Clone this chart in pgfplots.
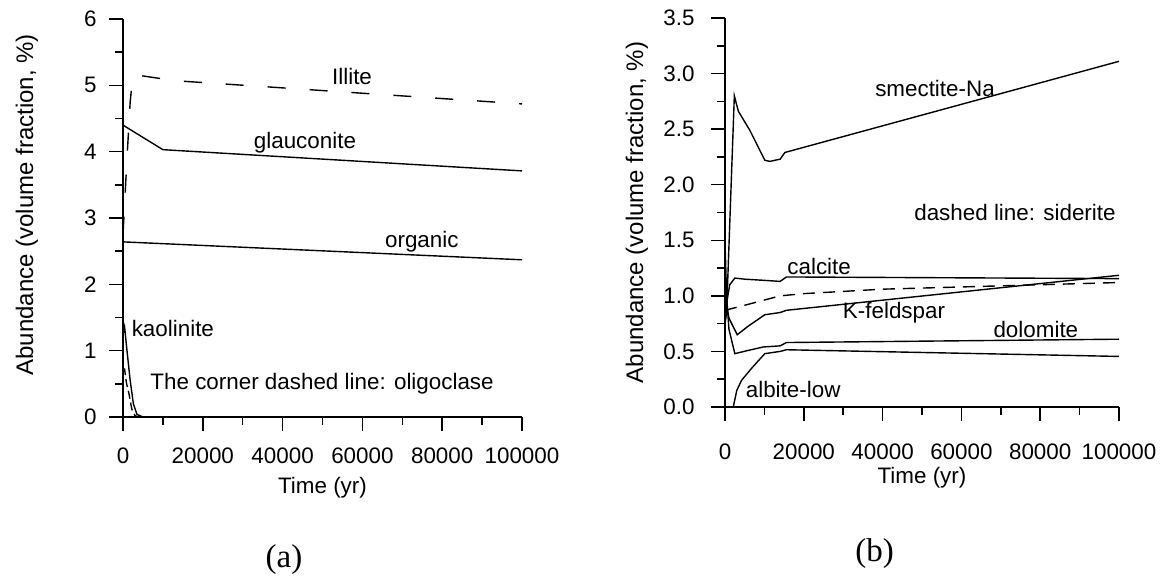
\documentclass[border=0pt]{standalone}
\usepackage{pgfplots}
\pgfplotsset{compat=1.18}
\usepackage{fontspec}
\setmainfont{Liberation Sans}
\newfontfamily\timesf{Liberation Serif}

\tikzset{lab/.style={font=\fontsize{11.2}{13}\selectfont, inner sep=0pt}}
\pgfplotsset{
  panel/.style={
    scale only axis,
    axis lines=left,
    axis line style={-, line width=0.75pt},
    tick align=outside,
    major tick length=7pt,
    minor tick length=4pt,
    tick style={line width=0.75pt, black},
    xmin=0, xmax=100000,
    xtick={0,20000,40000,60000,80000,100000},
    xticklabels={0,20000,40000,60000,80000,100000},
    minor x tick num=1,
    scaled x ticks=false,
    ticklabel style={font=\fontsize{11.2}{13}\selectfont, inner sep=0pt},
    label style={font=\fontsize{11.2}{13}\selectfont},
    ylabel style={font=\fontsize{12}{14}\selectfont},
    cycle list={{black}},
    every axis plot/.append style={black, line width=0.7pt, no markers},
    clip=false,
    xlabel={Time (yr)},
    ylabel={Abundance (volume fraction, \%)},
  },
}

\begin{document}
\begin{tikzpicture}
\useasboundingbox (0,0) rectangle (582pt,288.5pt);

% (a)
\begin{axis}[panel,
  at={(61.5pt,80pt)}, anchor=south west,
  width=199.5pt, height=199pt,
  ymin=0, ymax=6, ytick={0,1,2,3,4,5,6}, yticklabels={0,1,2,3,4,5,6},
  minor y tick num=1,
  xticklabel style={yshift=-8pt},
  yticklabel style={xshift=-6pt},
  xlabel style={at={(axis description cs:0.5,-0.178)}, anchor=center},
  ylabel style={at={(axis description cs:-0.2406,0.533)}, anchor=center},
]
% Illite
\addplot[black, dash pattern=on 9pt off 12pt] coordinates {
  (0,2.75) (1000,3.9) (1800,4.75) (2300,5.05) (3000,5.16) (4000,5.15)
  (13000,5.07) (100000,4.72)
};
% glauconite
\addplot coordinates {(0,4.40) (10000,4.03) (100000,3.71)};
% organic
\addplot coordinates {(0,2.64) (100000,2.37)};
% kaolinite
\addplot coordinates {
  (0,1.25) (400,1.36) (1000,1.0) (1800,0.55) (2600,0.2) (3500,0.04)
  (5000,0) (100000,0)
};
% oligoclase
\addplot[black, dash pattern=on 4pt off 2pt] coordinates {
  (0,0.70) (400,0.72) (900,0.5) (1500,0.35) (2200,0.12) (3000,0.02)
  (4000,0) (100000,0)
};
\node[lab] at (axis cs:57400,5.14) {Illite};
\node[lab] at (axis cs:45600,4.13) {glauconite};
\node[lab] at (axis cs:74900,2.64) {organic};
\node[lab] at (axis cs:12500,1.33) {kaolinite};
\node[lab] at (axis cs:49900,0.50) {The corner dashed line: oligoclase};
\end{axis}

% (b)
\begin{axis}[panel,
  at={(362.5pt,85pt)}, anchor=south west,
  width=197pt, height=194.5pt,
  ymin=0, ymax=3.5, ytick={0,0.5,1,1.5,2,2.5,3,3.5},
  yticklabels={0.0,0.5,1.0,1.5,2.0,2.5,3.0,3.5},
  minor y tick num=1,
  xticklabel style={yshift=-11pt},
  yticklabel style={xshift=-8pt},
  xlabel style={at={(axis description cs:0.5,-0.1825)}, anchor=center},
  ylabel style={at={(axis description cs:-0.2234,0.5)}, anchor=center},
]
% smectite-Na
\addplot coordinates {
  (0,0.75) (400,0.85) (2370,2.80) (3400,2.66) (6300,2.49) (10100,2.22)
  (11400,2.21) (14000,2.23) (15200,2.29) (100000,3.11)
};
% calcite
\addplot coordinates {
  (0,0.75) (500,0.95) (1200,1.10) (2500,1.16) (5000,1.15) (9700,1.14)
  (14000,1.13) (15600,1.17) (100000,1.155)
};
% K-feldspar
\addplot coordinates {
  (0,1.0) (1000,0.8) (3100,0.65) (6000,0.73) (10100,0.83) (14000,0.85)
  (15600,0.87) (100000,1.185)
};
% dolomite
\addplot coordinates {
  (0,1.5) (400,1.0) (1000,0.7) (2500,0.48) (6000,0.51) (9700,0.54)
  (14000,0.55) (15600,0.58) (100000,0.61)
};
% albite-low
\addplot coordinates {
  (0,0) (2100,0) (3000,0.15) (4200,0.24) (6800,0.35) (10100,0.48)
  (14000,0.50) (15600,0.515) (100000,0.455)
};
% siderite
\addplot[black, dash pattern=on 6pt off 4pt] coordinates {
  (0,0.87) (5500,0.92) (14000,1.00) (20000,1.02) (40000,1.06) (100000,1.12)
};
\node[lab] at (axis cs:53300,2.87) {smectite-Na};
\node[lab] at (axis cs:73600,1.75) {dashed line: siderite};
\node[lab] at (axis cs:23900,1.26) {calcite};
\node[lab] at (axis cs:42900,0.85) {K-feldspar};
\node[lab] at (axis cs:78900,0.70) {dolomite};
\node[lab] at (axis cs:17300,0.16) {albite-low};
\end{axis}

\node[font=\timesf\fontsize{16.5}{18}\selectfont] at (142pt,8.5pt) {(a)};
\node[font=\timesf\fontsize{16.5}{18}\selectfont] at (437.25pt,11.5pt) {(b)};
\end{tikzpicture}
\end{document}
